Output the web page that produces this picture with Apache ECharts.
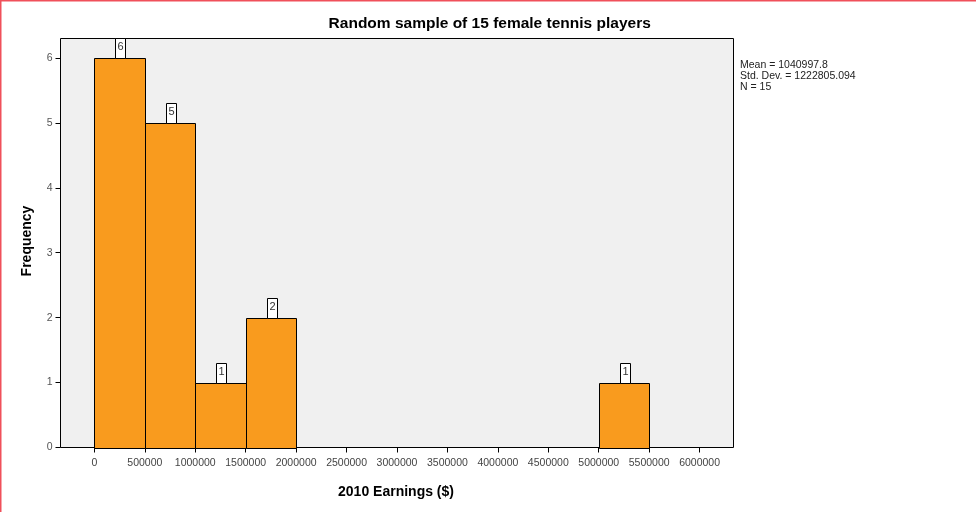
<!DOCTYPE html>
<html>
<head>
<meta charset="utf-8">
<script src="https://cdn.jsdelivr.net/npm/echarts@6/dist/echarts.min.js"></script>
<style>
html,body{margin:0;padding:0;background:#fff;}
#chart{width:976px;height:512px;}
</style>
</head>
<body>
<div id="chart"></div>
<script>
// Data
var binStarts = [0, 500000, 1000000, 1500000, 5000000];
var binEnds   = [500000, 1000000, 1500000, 2000000, 5500000];
var counts    = [6, 5, 1, 2, 1];
var xTicks = [0, 500000, 1000000, 1500000, 2000000, 2500000, 3000000, 3500000, 4000000, 4500000, 5000000, 5500000, 6000000];
var yTicks = [0, 1, 2, 3, 4, 5, 6];
var titleText = 'Random sample of 15 female tennis players';
var xTitle = '2010 Earnings ($)';
var yTitle = 'Frequency';
var statsLines = ['Mean = 1040997.8', 'Std. Dev. = 1222805.094', 'N = 15'];

var FONT = '"Liberation Sans", Arial, Helvetica, sans-serif';
var seriesData = binStarts.map(function (s, i) { return [s, binEnds[i], counts[i]]; });

var chart = echarts.init(document.getElementById('chart'), null, {renderer: 'canvas'});
chart.setOption({
  animation: false,
  backgroundColor: '#ffffff',
  grid: {
    left: 60.5, top: 38.5, width: 673, height: 409,
    show: true, backgroundColor: '#f0f0f0', borderColor: '#000000', borderWidth: 1,
    containLabel: false
  },
  xAxis: {
    type: 'value', min: -336000, max: 6336000,
    splitLine: {show: false},
    axisLine: {show: false, onZero: false},
    axisTick: {show: true, inside: false, length: 5, lineStyle: {color: '#000', width: 1}, customValues: xTicks},
    axisLabel: {
      show: true, customValues: xTicks, margin: 10,
      fontFamily: FONT, fontSize: 10.5, color: '#444',
      formatter: function (v) { return String(v); }
    }
  },
  yAxis: {
    type: 'value', min: 0, max: 6.3,
    splitLine: {show: false},
    axisLine: {show: false, onZero: false},
    axisTick: {show: true, inside: false, length: 5, lineStyle: {color: '#000', width: 1}, customValues: yTicks},
    axisLabel: {
      show: true, customValues: yTicks, margin: 8,
      fontFamily: FONT, fontSize: 10.5, color: '#555',
      formatter: function (v) { return String(v); }
    }
  },
  series: [{
    type: 'custom',
    coordinateSystem: 'cartesian2d',
    encode: {x: [0, 1], y: 2},
    data: seriesData,
    renderItem: function (params, api) {
      var s = api.value(0), e = api.value(1), c = api.value(2);
      var p0 = api.coord([s, 0]);
      var p1 = api.coord([e, c]);
      var x = Math.round(p0[0]) + 0.5, x2 = Math.round(p1[0]) + 0.5;
      var yTop = Math.round(p1[1]) + 0.5, yBot = Math.round(p0[1]) + 0.5;
      var cx = Math.round((x + x2) / 2);
      return {
        type: 'group',
        children: [
          {
            type: 'rect',
            shape: {x: x, y: yTop, width: x2 - x, height: yBot - yTop},
            style: {fill: '#F99B1E', stroke: '#000000', lineWidth: 1}
          },
          {
            type: 'rect',
            shape: {x: cx - 5 + 0.5, y: yTop - 20, width: 10, height: 20},
            style: {fill: '#ffffff', stroke: '#000000', lineWidth: 1}
          },
          {
            type: 'text',
            x: cx + 0.5, y: yTop - 12,
            style: {
              text: String(c),
              align: 'center', verticalAlign: 'middle',
              fontFamily: FONT, fontSize: 11,
              fill: '#333'
            }
          }
        ]
      };
    }
  }],
  graphic: [
    {type: 'rect', shape: {x: 0, y: 0, width: 976, height: 1.5}, style: {fill: '#f0505a'}, silent: true},
    {type: 'rect', shape: {x: 0, y: 0, width: 1.5, height: 512}, style: {fill: '#f0505a'}, silent: true},
    {
      type: 'text', x: 489.7, y: 23.5,
      style: {text: titleText, align: 'center', verticalAlign: 'middle', fontFamily: FONT, fontSize: 15.5, fontWeight: 'bold', fill: '#000'}
    },
    {
      type: 'text', x: 396, y: 492,
      style: {text: xTitle, align: 'center', verticalAlign: 'middle', fontFamily: FONT, fontSize: 14, fontWeight: 'bold', fill: '#000'}
    },
    {
      type: 'text', x: 27, y: 241, rotation: Math.PI / 2,
      style: {text: yTitle, align: 'center', verticalAlign: 'middle', fontFamily: FONT, fontSize: 14, fontWeight: 'bold', fill: '#000'}
    },
    {
      type: 'text', x: 740, y: 60,
      style: {text: statsLines.join('\n'), align: 'left', verticalAlign: 'top', fontFamily: FONT, fontSize: 10.5, lineHeight: 11, fill: '#222'}
    }
  ]
});
</script>
</body>
</html>
